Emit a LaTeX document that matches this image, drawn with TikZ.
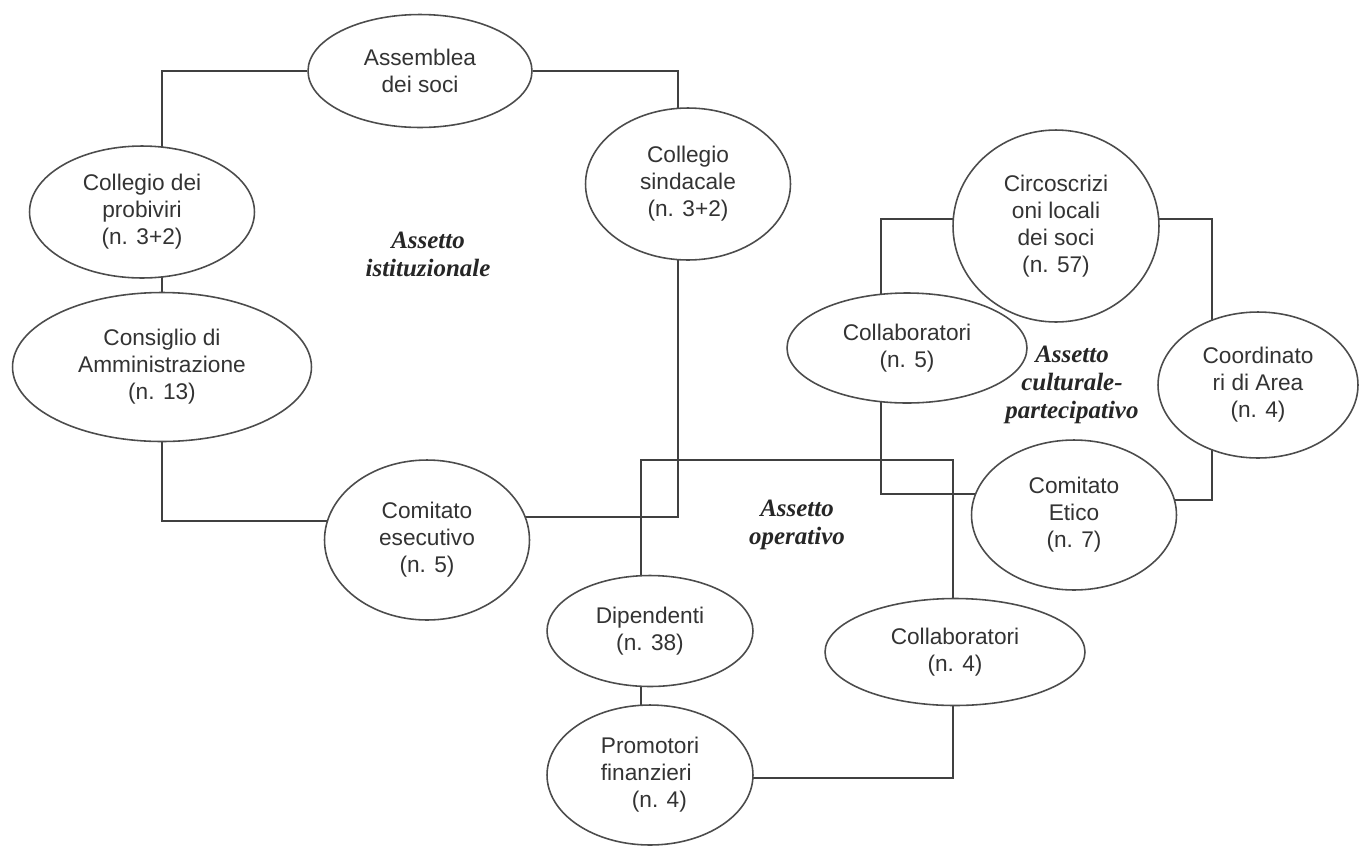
\documentclass[tikz,border=0pt]{standalone}
\usepackage{fontspec}
\setmainfont{Liberation Sans}
\newfontfamily\serifit{Liberation Serif}
\usetikzlibrary{shapes.geometric,backgrounds}

\begin{document}
\begin{tikzpicture}[x=0.02cm,y=-0.02cm,
  organo/.style={ellipse,draw=black!70,line width=0.9pt,fill=white,inner sep=0pt,
    align=center,text=black!80,font=\fontsize{12.9}{15.3}\selectfont},
  assetto/.style={align=center,text=black!85,
    font=\serifit\bfseries\itshape\fontsize{14.2}{15.9}\selectfont},
  link/.style={draw=black!75,line width=1pt}]
\useasboundingbox (0,0) rectangle (1360,846);
% assetto istituzionale
\node[organo,minimum width=4.48cm,minimum height=2.26cm] (ass) at (420,71) {Assemblea\\dei soci};
\node[organo,minimum width=4.5cm,minimum height=2.64cm] (prob) at (142,212) {Collegio dei\\probiviri\\(n. 3+2)};
\node[organo,minimum width=4.1cm,minimum height=3.04cm] (sind) at (688,184) {Collegio\\sindacale\\(n. 3+2)};
\node[organo,minimum width=5.98cm,minimum height=2.98cm] (cons) at (162,367) {Consiglio di\\Amministrazione\\(n. 13)};
\node[organo,minimum width=4.1cm,minimum height=3.2cm] (cese) at (427,540) {Comitato\\esecutivo\\(n. 5)};
\node[assetto] (inst) at (428,254) {Assetto\\istituzionale};
% assetto culturale-partecipativo
\node[organo,minimum width=4.12cm,minimum height=3.84cm] (circ) at (1056,226) {Circoscrizi\\oni locali\\dei soci\\(n. 57)};
\node[organo,minimum width=4.8cm,minimum height=2.2cm] (coll5) at (907,348) {Collaboratori\\(n. 5)};
\node[organo,minimum width=4cm,minimum height=2.92cm] (coord) at (1258,385) {Coordinato\\ri di Area\\(n. 4)};
\node[organo,minimum width=4.1cm,minimum height=3cm] (etico) at (1074,515) {Comitato\\Etico\\(n. 7)};
\node[assetto] (cult) at (1072,385) {Assetto\\culturale-\\partecipativo};
% assetto operativo
\node[organo,minimum width=4.12cm,minimum height=2.22cm] (dip) at (650,631) {Dipendenti\\(n. 38)};
\node[organo,minimum width=4.12cm,minimum height=2.8cm,align=left] (prom) at (650,775) {Promotori\\finanzieri\\\hspace*{0.62cm}(n. 4)};
\node[organo,minimum width=5.2cm,minimum height=2.14cm] (coll4) at (955,652) {Collaboratori\\(n. 4)};
\node[assetto] (oper) at (797,525) {Assetto\\operativo};
% elbow points of the connectors
\coordinate (b1) at (162,71);
\coordinate (b2) at (678,71);
\coordinate (b3) at (162,521);
\coordinate (b4) at (678,517);
\coordinate (b5) at (641,460);
\coordinate (b6) at (953,460);
\coordinate (b7) at (953,778);
\coordinate (b8) at (881,219);
\coordinate (b9) at (881,494);
\coordinate (b10) at (1212,219);
\coordinate (b11) at (1212,500);
\begin{scope}[on background layer]
\draw[link] (ass) -- (b1) -- (b1 |- prob);
\draw[link] (ass) -- (b2) -- (b2 |- sind);
\draw[link] (cons) -- (cons |- prob);
\draw[link] (cons) -- (b3) -- (b3 -| cese);
\draw[link] (b4 -| cese) -- (b4) -- (b4 |- sind);
\draw[link] (b5 |- dip) -- (b5) -- (b6) -- (b6 |- coll4);
\draw[link] (b5 |- dip) -- (b5 |- prom);
\draw[link] (b7 -| prom) -- (b7) -- (b7 |- coll4);
\draw[link] (b8 -| circ) -- (b8) -- (b9) -- (b9 -| etico);
\draw[link] (b10 -| circ) -- (b10) -- (b11) -- (b11 -| etico);
\end{scope}
\end{tikzpicture}
\end{document}
